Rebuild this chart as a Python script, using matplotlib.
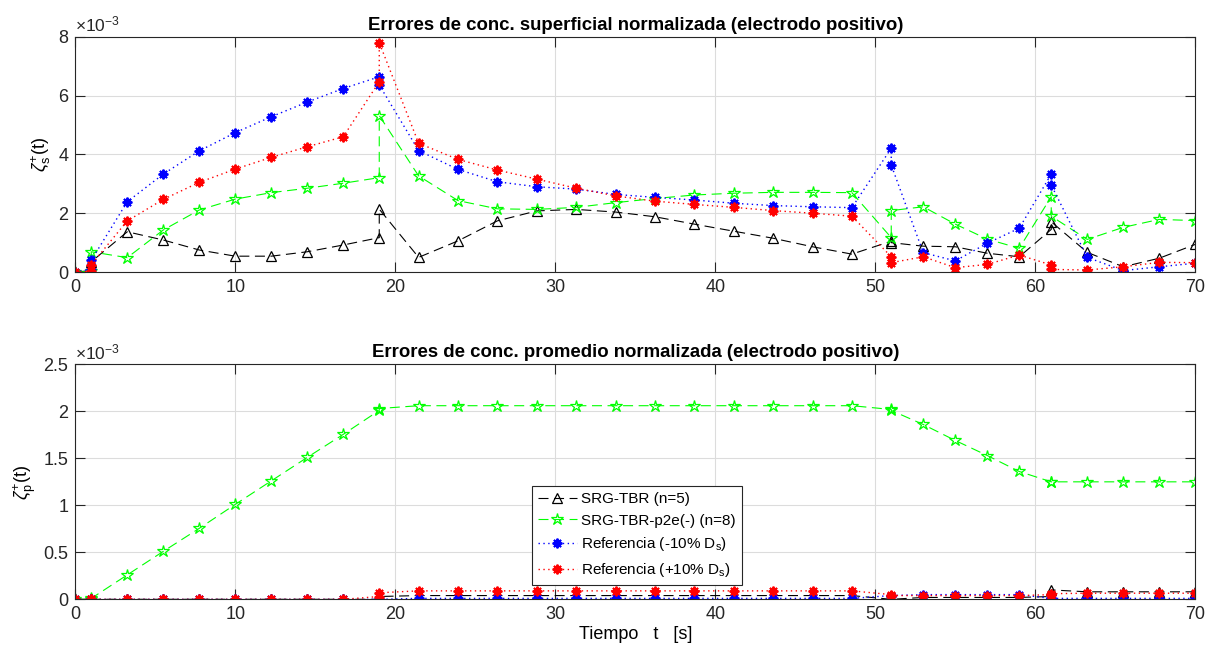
import matplotlib
matplotlib.use("Agg")
import matplotlib.pyplot as plt
from matplotlib.ticker import FuncFormatter

plt.rcParams['font.family'] = ['Liberation Sans', 'DejaVu Sans']
plt.rcParams['mathtext.fontset'] = 'custom'
plt.rcParams['mathtext.rm'] = 'Liberation Sans'
plt.rcParams['mathtext.it'] = 'Liberation Sans:italic'
plt.rcParams['mathtext.bf'] = 'Liberation Sans:bold'

# Time instants [s] (repeated instants mark the current steps)
t = [0, 1, 1, 3.25, 5.5, 7.75, 10, 12.25, 14.5, 16.75, 19, 19,
     21.46, 23.92, 26.38, 28.85, 31.31, 33.77, 36.23, 38.69, 41.15, 43.62,
     46.08, 48.54, 51, 51, 53, 55, 57, 59, 61, 61, 63.25, 65.5, 67.75, 70]

# Surface concentration errors (x1e-3)
surf_tbr = [0, 0.05, 0.35, 1.37, 1.09, 0.75, 0.54, 0.54, 0.69, 0.92, 1.17, 2.14,
            0.50, 1.06, 1.74, 2.08, 2.13, 2.04, 1.88, 1.63, 1.39, 1.15,
            0.86, 0.61, 1.05, 1.00, 0.88, 0.86, 0.64, 0.52, 1.45, 1.71, 0.67, 0.18, 0.47, 0.94]
surf_p2e = [0, 0.02, 0.69, 0.49, 1.43, 2.11, 2.48, 2.70, 2.85, 3.02, 3.21, 5.32,
            3.27, 2.43, 2.15, 2.13, 2.20, 2.36, 2.50, 2.62, 2.68, 2.71,
            2.71, 2.70, 1.17, 2.09, 2.22, 1.63, 1.12, 0.81, 2.56, 1.90, 1.11, 1.52, 1.79, 1.75]
surf_ref_m10 = [0, 0.10, 0.40, 2.39, 3.33, 4.12, 4.74, 5.28, 5.78, 6.24, 6.64, 6.36,
                4.13, 3.49, 3.07, 2.90, 2.82, 2.64, 2.54, 2.45, 2.34, 2.26,
                2.22, 2.19, 4.21, 3.64, 0.66, 0.38, 0.98, 1.49, 3.33, 2.96, 0.50, 0.05, 0.18, 0.30]
surf_ref_p10 = [0, 0.02, 0.25, 1.74, 2.47, 3.05, 3.50, 3.90, 4.26, 4.60, 6.47, 7.80,
                4.38, 3.83, 3.47, 3.16, 2.85, 2.59, 2.41, 2.30, 2.20, 2.09,
                2.00, 1.90, 0.52, 0.32, 0.52, 0.15, 0.26, 0.58, 0.24, 0.09, 0.07, 0.18, 0.33, 0.32]

# Average concentration errors (x1e-3)
avg_tbr = [0, 0, 0, 0, 0, 0, 0, 0, 0, 0, 0.00, 0.03,
           0.04, 0.04, 0.04, 0.04, 0.04, 0.04, 0.04, 0.04, 0.04, 0.04,
           0.04, 0.04, 0.00, 0.00, 0.02, 0.02, 0.02, 0.02, 0.03, 0.10, 0.08, 0.08, 0.08, 0.08]
avg_p2e = [0, 0, 0.01, 0.26, 0.51, 0.755, 1.01, 1.26, 1.51, 1.755, 2.01, 2.03,
           2.06, 2.06, 2.06, 2.06, 2.06, 2.06, 2.06, 2.06, 2.06, 2.06,
           2.06, 2.06, 2.02, 2.01, 1.86, 1.69, 1.53, 1.36, 1.25, 1.25, 1.25, 1.25, 1.25, 1.25]
avg_ref_m10 = [0, 0, 0, 0, 0, 0, 0, 0, 0, 0, 0.00, 0.00,
               0.01, 0.01, 0.01, 0.01, 0.01, 0.01, 0.01, 0.01, 0.01, 0.01,
               0.01, 0.01, 0.04, 0.04, 0.05, 0.05, 0.05, 0.05, 0.01, 0.01, 0.01, 0.01, 0.01, 0.01]
avg_ref_p10 = [0, 0, 0, 0, 0, 0, 0, 0, 0, 0, 0.03, 0.07,
               0.09, 0.09, 0.09, 0.09, 0.09, 0.09, 0.09, 0.09, 0.09, 0.09,
               0.09, 0.09, 0.05, 0.04, 0.04, 0.04, 0.04, 0.04, 0.05, 0.06, 0.065, 0.065, 0.065, 0.065]

labels = ['SRG-TBR (n=5)', 'SRG-TBR-p2e(-) (n=8)',
          r'Referencia (-10% D$_{\rm s}$)', r'Referencia (+10% D$_{\rm s}$)']

titles = ['Errores de conc. superficial normalizada (electrodo positivo)',
          'Errores de conc. promedio normalizada (electrodo positivo)']
ylabels = [r'$\zeta^{+}_{\rm s}(\rm t)$', r'$\zeta^{+}_{\rm p}(\rm t)$']
yticks_list = [[0, 2, 4, 6, 8], [0, 0.5, 1, 1.5, 2, 2.5]]
xticks = [0, 10, 20, 30, 40, 50, 60, 70]

AST = (8, 2, 0)
styles = [
    dict(color='black', ls=(0, (9, 5)), lw=0.8, marker='^', ms=7, mfc='none', mew=0.9),
    dict(color='#00ff00', ls=(0, (9, 5)), lw=0.8, marker='*', ms=9, mfc='none', mew=0.9),
    dict(color='blue', ls=(0, (1, 2.5)), lw=1.0, marker=AST, ms=7, mew=1.4),
    dict(color='red', ls=(0, (1, 2.5)), lw=1.0, marker=AST, ms=7, mew=1.4),
]

fig = plt.figure(figsize=(12.10, 6.54), dpi=100)
ax1 = fig.add_axes([0.0622, 0.584, 0.9256, 0.3598])
ax2 = fig.add_axes([0.0622, 0.0836, 0.9256, 0.3593])

data = [[surf_tbr, surf_p2e, surf_ref_m10, surf_ref_p10],
        [avg_tbr, avg_p2e, avg_ref_m10, avg_ref_p10]]

edge = '#262626'
for ax, series, title, ylab, yt in zip([ax1, ax2], data, titles, ylabels, yticks_list):
    for y, st, lab in zip(series, styles, labels):
        ax.plot(t, y, label=lab, **st)
    ax.set_xlim(0, 70)
    ax.set_ylim(yt[0], yt[-1])
    ax.set_xticks(xticks)
    ax.set_yticks(yt)
    ax.yaxis.set_major_formatter(FuncFormatter(lambda v, p: '%g' % v))
    ax.grid(True, color='#dcdcdc', lw=0.8)
    ax.set_axisbelow(True)
    ax.tick_params(direction='in', top=True, right=True, length=7, width=0.8,
                   labelsize=13, colors=edge, labelcolor='#262626', pad=5)
    for sp in ax.spines.values():
        sp.set_color(edge)
        sp.set_linewidth(0.8)
    ax.set_title(title, fontsize=13.4, fontweight='bold', pad=5)
    ax.set_ylabel(ylab, fontsize=13, labelpad=4)
    ax.text(0.0, 1.01, r'$\times$10$^{-3}$', transform=ax.transAxes,
            fontsize=12.5, ha='left', va='bottom', color='#262626')

ax2.set_xlabel('Tiempo   t   [s]', fontsize=13, labelpad=2)
leg = ax2.legend(loc='lower left', bbox_to_anchor=(0.408, 0.061),
                 fontsize=11, frameon=True, fancybox=False,
                 edgecolor=edge, framealpha=1, borderpad=0.4, labelspacing=0.5,
                 handlelength=2.5, handletextpad=0.3, borderaxespad=0)
leg.get_frame().set_linewidth(0.8)

fig.savefig('out.png', dpi=100)
